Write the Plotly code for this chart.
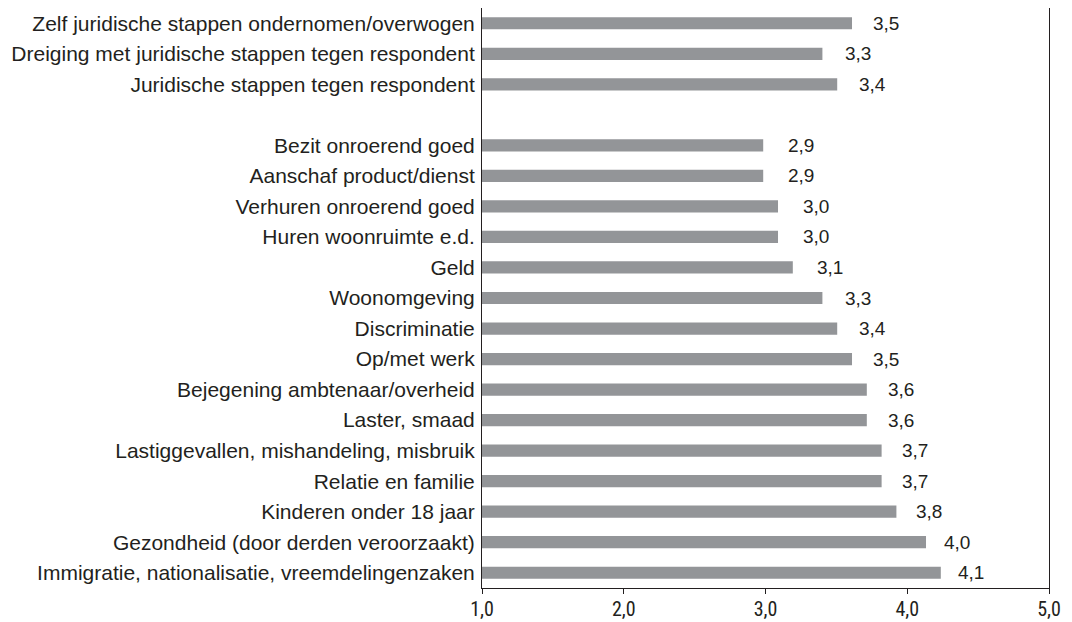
import plotly.graph_objects as go

# Data (top to bottom); " " marks the empty spacer row
categories = [
    "Zelf juridische stappen ondernomen/overwogen",
    "Dreiging met juridische stappen tegen respondent",
    "Juridische stappen tegen respondent",
    " ",
    "Bezit onroerend goed",
    "Aanschaf product/dienst",
    "Verhuren onroerend goed",
    "Huren woonruimte e.d.",
    "Geld",
    "Woonomgeving",
    "Discriminatie",
    "Op/met werk",
    "Bejegening ambtenaar/overheid",
    "Laster, smaad",
    "Lastiggevallen, mishandeling, misbruik",
    "Relatie en familie",
    "Kinderen onder 18 jaar",
    "Gezondheid (door derden veroorzaakt)",
    "Immigratie, nationalisatie, vreemdelingenzaken",
]
values = [3.5, 3.3, 3.4, None, 2.9, 2.9, 3.0, 3.0, 3.1, 3.3, 3.4, 3.5, 3.6, 3.6, 3.7, 3.7, 3.8, 4.0, 4.1]
tick_values = [1, 2, 3, 4, 5]

BAR = "#939598"
INK = "#231f20"
LABEL_FONT = "Liberation Sans, Arial, Helvetica, sans-serif"
TICK_FONT = "Liberation Sans Narrow, Arial Narrow, Roboto Condensed, Liberation Sans, sans-serif"

fig = go.Figure()
fig.add_trace(go.Bar(
    x=values, y=categories, orientation="h",
    marker=dict(color=BAR, line=dict(width=0)),
    width=0.4, xaxis="x", yaxis="y", hoverinfo="skip", showlegend=False,
))
# invisible companion trace on the labelled 1-5 axis
fig.add_trace(go.Scatter(
    x=values, y=categories, mode="markers", marker=dict(opacity=0),
    xaxis="x2", yaxis="y", hoverinfo="skip", showlegend=False,
))

for c, v in zip(categories, values):
    if v is None:
        continue
    fig.add_annotation(
        x=v, y=c, xref="x2", yref="y", text=f"{v:.1f}".replace(".", ","),
        showarrow=False, xanchor="left", yanchor="middle", xshift=35,
        font=dict(family=LABEL_FONT, size=19, color=INK),
    )

fig.update_layout(
    width=1064, height=614,
    margin=dict(l=474, r=23, t=0, b=34, pad=0),
    paper_bgcolor="white", plot_bgcolor="white",
    separators=",.",
    bargap=0.6,
    xaxis=dict(range=[1, 4.831], visible=False, fixedrange=True),
    xaxis2=dict(
        overlaying="x", anchor="y", side="bottom", range=[1, 5],
        tickvals=tick_values, tickformat=".1f",
        ticks="outside", ticklen=5, tickwidth=1, tickcolor=INK,
        showline=True, linecolor=INK, linewidth=1, mirror=True,
        showgrid=False, zeroline=False, automargin=False,
        ticklabelstandoff=-2,
        tickfont=dict(family=TICK_FONT, size=20, color=INK),
    ),
    yaxis=dict(
        type="category", categoryorder="array", categoryarray=categories,
        range=[len(categories) - 0.5, -0.5],
        showline=True, linecolor=INK, linewidth=1, mirror=True,
        ticks="", showgrid=False, zeroline=False, automargin=False,
        ticklabelstandoff=2,
        tickfont=dict(family=LABEL_FONT, size=21, color=INK),
    ),
)

fig.write_html("out.html")
